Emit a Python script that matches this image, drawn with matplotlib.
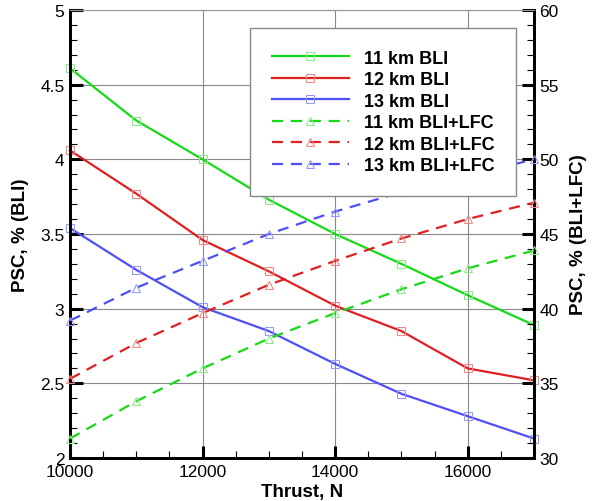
import matplotlib
matplotlib.use("Agg")
import matplotlib.pyplot as plt
from matplotlib.ticker import MultipleLocator

plt.rcParams["font.family"] = ["Liberation Sans", "DejaVu Sans"]

thrust = [10000, 11000, 12000, 13000, 14000, 15000, 16000, 17000]

# PSC, % (BLI) - left axis
bli_11 = [4.61, 4.26, 4.00, 3.73, 3.50, 3.30, 3.09, 2.89]
bli_12 = [4.06, 3.77, 3.46, 3.25, 3.02, 2.85, 2.60, 2.52]
bli_13 = [3.54, 3.26, 3.01, 2.85, 2.63, 2.43, 2.28, 2.13]

# PSC, % (BLI+LFC) - right axis
lfc_11 = [31.3, 33.8, 36.0, 38.0, 39.7, 41.3, 42.7, 43.9]
lfc_12 = [35.3, 37.7, 39.7, 41.6, 43.2, 44.7, 46.0, 47.1]
lfc_13 = [39.2, 41.4, 43.2, 45.0, 46.5, 47.8, 48.9, 50.0]

GREEN = "#16d916"
RED = "#e02020"
BLUE = "#4f4ff5"
PALE = {GREEN: "#8fe88f", RED: "#f08a8a", BLUE: "#9a9af5"}

fig = plt.figure(figsize=(5.94, 5.02), dpi=100)
ax = fig.add_axes([70 / 594, 43 / 502, 464 / 594, 448 / 502])
ax2 = ax.twinx()

handles = []
for y, c, lab in [(bli_11, GREEN, "11 km BLI"), (bli_12, RED, "12 km BLI"),
                  (bli_13, BLUE, "13 km BLI")]:
    h, = ax.plot(thrust, y, "-", color=c, lw=1.6, marker="s", ms=5.5,
                 mfc="none", mec=PALE[c], mew=0.8, label=lab, clip_on=False, zorder=3)
    handles.append(h)
for y, c, lab in [(lfc_11, GREEN, "11 km BLI+LFC"), (lfc_12, RED, "12 km BLI+LFC"),
                  (lfc_13, BLUE, "13 km BLI+LFC")]:
    h, = ax2.plot(thrust, y, color=c, lw=1.6, ls=(0, (5, 3.5)), marker="^", ms=6,
                  mfc="none", mec=PALE[c], mew=0.8, label=lab, clip_on=False, zorder=3)
    handles.append(h)

ax.set_xlim(10000, 17000)
ax.set_ylim(2, 5)
ax2.set_ylim(30, 60)
ax.xaxis.set_major_locator(MultipleLocator(2000))
ax.xaxis.set_minor_locator(MultipleLocator(500))
ax.yaxis.set_major_locator(MultipleLocator(0.5))
ax.yaxis.set_minor_locator(MultipleLocator(0.1))
ax2.yaxis.set_major_locator(MultipleLocator(5))
ax2.yaxis.set_minor_locator(MultipleLocator(1))
ax.set_yticks([2, 2.5, 3, 3.5, 4, 4.5, 5], ["2", "2.5", "3", "3.5", "4", "4.5", "5"])

ax.grid(True, which="major", color="#888888", lw=0.8)
ax.set_axisbelow(True)

for a in (ax, ax2):
    a.tick_params(which="major", direction="in", length=9, width=2.2, labelsize=12.5, pad=4)
    a.tick_params(which="minor", direction="in", length=5, width=0.8)
    a.spines["top"].set_color("#999999")
    a.spines["top"].set_linewidth(0.8)
    a.spines["left"].set_linewidth(2)
    a.spines["bottom"].set_linewidth(2)
    a.spines["right"].set_linewidth(2)
ax.tick_params(top=False, which="both")
ax2.tick_params(top=False, which="both")

ax.set_xlabel("Thrust, N", fontsize=13.5, fontweight="bold", labelpad=3)
ax.set_ylabel("PSC, % (BLI)", fontsize=13.5, fontweight="bold", labelpad=8)
ax2.set_ylabel("PSC, % (BLI+LFC)", fontsize=13.5, fontweight="bold", labelpad=8)

leg = ax2.legend(handles=handles, loc="upper left", bbox_to_anchor=(250 / 594, 1 - 29 / 502),
                 bbox_transform=fig.transFigure, fontsize=13, frameon=True, fancybox=False,
                 edgecolor="#888888", framealpha=1, borderpad=1.2, labelspacing=0.25,
                 handlelength=4.3, handletextpad=0.8, borderaxespad=0)
leg.get_frame().set_linewidth(1.0)
for t in leg.get_texts():
    t.set_fontweight("bold")

fig.savefig("out.png", dpi=100)
